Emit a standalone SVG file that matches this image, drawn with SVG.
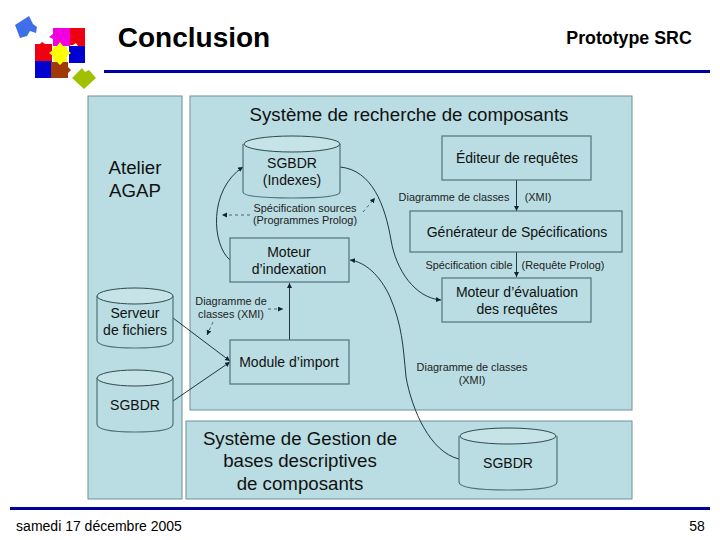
<svg xmlns="http://www.w3.org/2000/svg" width="720" height="540" viewBox="0 0 720 540">
<style>
text{font-family:"Liberation Sans",Arial,sans-serif;fill:#111;text-anchor:middle}
.p{fill:#b9dde2;stroke:#6f9196;stroke-width:1}
.n{fill:#b9dde2;stroke:#4f7478;stroke-width:1.2}
.top{fill:#c6e3e7;stroke:#2f4a4d;stroke-width:1}
.c{fill:none;stroke:#123;stroke-width:.9}
.d{fill:none;stroke:#345;stroke-width:.8;stroke-dasharray:3 3}
.s{font-size:10.900px;fill:#222}
.m{font-size:14px}
.h{font-size:18.700px}
.bar{fill:#0000a0}
</style>
<defs>
<marker id="a" markerWidth="6" markerHeight="6" refX="5" refY="2.500" orient="auto" markerUnits="userSpaceOnUse"><path d="M0 0L5 2.500L0 5z" fill="#123"/></marker>
</defs>
<rect width="720" height="540" fill="#fff"/>
<g id="logo">
<path d="M15 25L29 16L33 24L37 27L36 33L30 31L27 36L20 38z" fill="#3f6fe8"/>
<path d="M53 28H70V46H53V39L49 37L53 34z" fill="#f000e0"/>
<path d="M70 28H85V46H78L76 43L73 45H70z" fill="#ee0010"/>
<path d="M35 44H40L42 42L45 44H52V61H35z" fill="#ee0010"/>
<path d="M69 46H85V63H69z" fill="#0000d0"/>
<path d="M35 61H52V78H35z" fill="#0000d0"/>
<path d="M51 62H68V67L71 70L68 73V78H51z" fill="#a03808"/>
<path d="M53 47L57 46L60 42L63 46L67 47V50L71 53L67 56V61L63 62L60 65L57 62L53 61V56L49 53L53 50z" fill="#ffff00"/>
<path d="M72 78L82 68L85 72L89 70L96 78L84 89z" fill="#a0c000"/>
</g>
<text id="title" x="194" y="47" style="font-size:28px;font-weight:700;fill:#000">Conclusion</text>
<text x="629" y="44" style="font-size:17.800px;font-weight:700;fill:#000">Prototype SRC</text>
<rect class="bar" x="104" y="70" width="606" height="3"/>
<rect class="bar" x="10" y="507" width="700" height="3"/>
<text x="99" y="531" style="font-size:14px;fill:#000">samedi 17 décembre 2005</text>
<text x="697" y="531" style="font-size:14px;fill:#000">58</text>

<rect id="atelier" class="p" x="88" y="96" width="94" height="403"/>
<rect id="systeme" class="p" x="190" y="96" width="442" height="314"/>
<rect id="gestion" class="p" x="186" y="421" width="446" height="78"/>
<text class="h" x="135" y="174">Atelier</text>
<text class="h" x="135" y="197">AGAP</text>
<text class="h" x="409" y="121">Système de recherche de composants</text>
<text class="h" x="300" y="445">Système de Gestion de</text>
<text class="h" x="300" y="467">bases descriptives</text>
<text class="h" x="300" y="490">de composants</text>

<g id="connectors">
<path class="c" d="M230 260C212 245 208 190 243 167" marker-end="url(#a)"/>
<path class="c" d="M340 167C372 170 385 205 391 240C396 270 415 298 441 300" marker-end="url(#a)"/>
<path class="c" d="M459 459C430 452 412 410 406 377C403 345 402 325 390 297C380 275 365 262 350 260" marker-end="url(#a)"/>
<path class="c" d="M516.500 180V211" marker-end="url(#a)"/>
<path class="c" d="M516.500 252V277" marker-end="url(#a)"/>
<path class="c" d="M289.500 340V283" marker-end="url(#a)"/>
<path class="c" d="M173 318L230 361" marker-end="url(#a)"/>
<path class="c" d="M173 401L230 362" marker-end="url(#a)"/>
<path class="d" d="M250 215H222" marker-end="url(#a)"/>
<path class="d" d="M363 212L375 198" marker-end="url(#a)"/>
<path class="d" d="M268 309H283" marker-end="url(#a)"/>
<path class="d" d="M213 322L207 335" marker-end="url(#a)"/>
</g>

<g id="sgbdr-indexes">
<path class="n" d="M243 144V192Q243 198 292 198Q340 198 340 192V144"/>
<ellipse class="top" cx="292" cy="144" rx="48" ry="8"/>
<text class="m" x="292" y="168">SGBDR</text><text class="m" x="292" y="185">(Indexes)</text>
</g>
<g id="moteur-indexation">
<rect class="n" x="230" y="238" width="119" height="44"/>
<text class="m" x="289" y="257">Moteur</text><text class="m" x="289" y="274">d’indexation</text>
</g>
<g id="module-import">
<rect class="n" x="230" y="340" width="119" height="44"/>
<text class="m" x="289" y="367">Module d’import</text>
</g>
<g id="editeur">
<rect class="n" x="442" y="136" width="149" height="44"/>
<text class="m" x="517" y="163">Éditeur de requêtes</text>
</g>
<g id="generateur">
<rect class="n" x="410" y="211" width="212" height="41"/>
<text class="m" x="517" y="237">Générateur de Spécifications</text>
</g>
<g id="moteur-evaluation">
<rect class="n" x="442" y="278" width="149" height="44"/>
<text class="m" x="517" y="297">Moteur d’évaluation</text><text class="m" x="517" y="314">des requêtes</text>
</g>
<g id="serveur">
<path class="n" d="M97 296V340Q97 348 135 348Q173 348 173 340V296"/>
<ellipse class="top" cx="135" cy="296" rx="38" ry="8"/>
<text class="m" x="135" y="318">Serveur</text><text class="m" x="135" y="335">de fichiers</text>
</g>
<g id="sgbdr-atelier">
<path class="n" d="M97 378V424Q97 432 135 432Q173 432 173 424V378"/>
<ellipse class="top" cx="135" cy="378" rx="38" ry="8"/>
<text class="m" x="135" y="410">SGBDR</text>
</g>
<g id="sgbdr-gestion">
<path class="n" d="M459 436V482Q459 490 508 490Q557 490 557 482V436"/>
<ellipse class="top" cx="508" cy="436" rx="48" ry="8"/>
<text class="m" x="508" y="468">SGBDR</text>
</g>

<text class="s" x="305" y="212">Spécification sources</text>
<text class="s" x="305" y="224">(Programmes Prolog)</text>
<text class="s" x="454" y="201">Diagramme de classes</text>
<text class="s" x="538" y="201">(XMI)</text>
<text class="s" x="469" y="269">Spécification cible</text>
<text class="s" x="563" y="269">(Requête Prolog)</text>
<text class="s" x="231" y="305">Diagramme de</text>
<text class="s" x="231" y="318">classes (XMI)</text>
<text class="s" x="472" y="371">Diagramme de classes</text>
<text class="s" x="472" y="384">(XMI)</text>
</svg>
